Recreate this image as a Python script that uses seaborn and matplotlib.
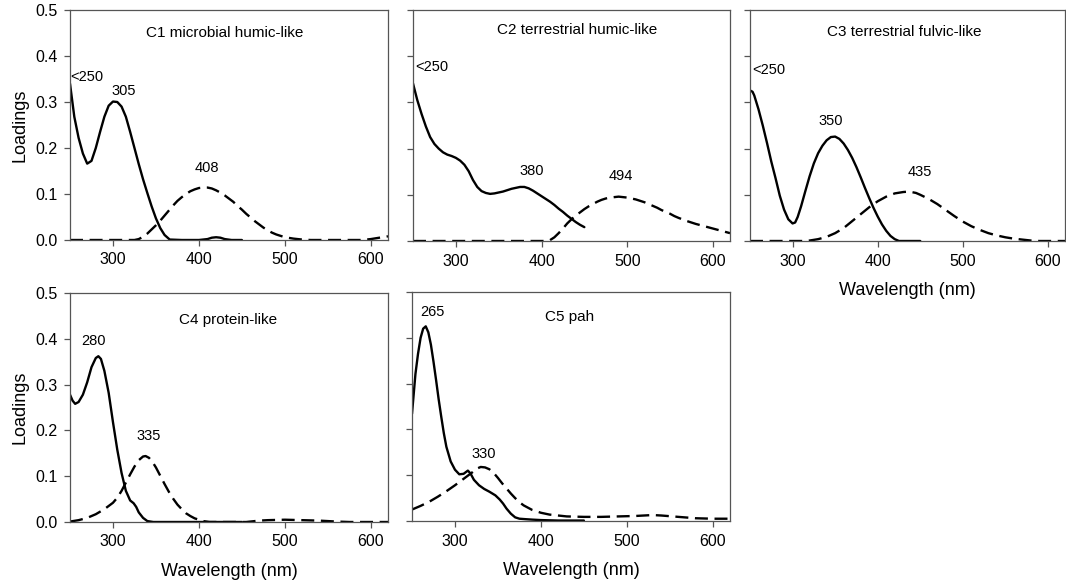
import matplotlib
matplotlib.use("Agg")
import matplotlib.pyplot as plt
import seaborn as sns
import pandas as pd

sns.set_theme(style="ticks")
plt.rcParams["font.family"] = ["Liberation Sans", "DejaVu Sans"]
plt.rcParams["text.color"] = "black"
plt.rcParams["axes.labelcolor"] = "black"

# ---- component spectra: excitation (solid) and emission (dashed) loadings ----
c1_ex_wl = [250, 255, 260, 265, 270, 275, 280, 285, 290, 295, 300, 305, 310, 315, 320, 325, 330,
            335, 340, 345, 350, 355, 360, 366, 380, 400, 410, 415, 420, 425, 430, 438, 450]
c1_ex = [0.340, 0.268, 0.222, 0.188, 0.166, 0.172, 0.200, 0.235, 0.268, 0.292, 0.301, 0.300, 0.290,
         0.268, 0.235, 0.200, 0.165, 0.132, 0.102, 0.073, 0.047, 0.026, 0.011, 0.001, 0.0, 0.0,
         0.002, 0.005, 0.006, 0.005, 0.002, 0.0, 0.0]
c1_em_wl = [250, 300, 325, 330, 335, 340, 345, 350, 355, 360, 365, 370, 375, 380, 385, 390, 395, 400,
            405, 410, 415, 420, 425, 430, 435, 440, 445, 450, 455, 460, 465, 470, 475, 480, 485, 490,
            495, 500, 510, 520, 530, 590, 600, 610, 620]
c1_em = [0.0, 0.0, 0.0, 0.002, 0.007, 0.014, 0.023, 0.032, 0.042, 0.053, 0.064, 0.075, 0.085, 0.093,
         0.100, 0.106, 0.110, 0.113, 0.114, 0.114, 0.112, 0.108, 0.103, 0.097, 0.090, 0.083, 0.074,
         0.066, 0.057, 0.049, 0.041, 0.034, 0.027, 0.021, 0.016, 0.012, 0.009, 0.006, 0.003, 0.001,
         0.0, 0.0, 0.002, 0.005, 0.008]

c2_ex_wl = [250, 255, 260, 265, 270, 275, 280, 285, 290, 295, 300, 305, 310, 315, 320, 325, 330, 335,
            340, 345, 350, 355, 360, 365, 370, 375, 380, 385, 390, 395, 400, 405, 410, 415, 420, 425,
            430, 435, 440, 445, 450]
c2_ex = [0.341, 0.305, 0.275, 0.248, 0.225, 0.210, 0.200, 0.192, 0.187, 0.184, 0.180, 0.174, 0.165,
         0.151, 0.132, 0.117, 0.108, 0.104, 0.102, 0.103, 0.105, 0.107, 0.110, 0.113, 0.115, 0.117,
         0.117, 0.114, 0.109, 0.103, 0.097, 0.091, 0.085, 0.078, 0.070, 0.063, 0.055, 0.048, 0.041,
         0.035, 0.030]
c2_em_wl = [250, 405, 410, 415, 420, 425, 430, 435, 440, 445, 450, 455, 460, 465, 470, 475, 480, 485,
            490, 495, 500, 505, 510, 515, 520, 525, 530, 535, 540, 545, 550, 555, 560, 570, 580, 590,
            600, 610, 620]
c2_em = [0.0, 0.0, 0.002, 0.008, 0.017, 0.027, 0.038, 0.047, 0.055, 0.062, 0.069, 0.075, 0.080,
         0.085, 0.089, 0.092, 0.094, 0.095, 0.096, 0.095, 0.094, 0.092, 0.090, 0.087, 0.084, 0.080,
         0.076, 0.072, 0.067, 0.063, 0.059, 0.054, 0.050, 0.043, 0.037, 0.032, 0.027, 0.022, 0.017]

c3_ex_wl = [250, 253, 255, 260, 265, 270, 275, 280, 285, 290, 295, 300, 303, 306, 310, 315, 320, 325,
            330, 335, 340, 345, 350, 355, 360, 365, 370, 375, 380, 385, 390, 395, 400, 405, 410, 415,
            420, 425, 450]
c3_ex = [0.326, 0.323, 0.315, 0.285, 0.250, 0.212, 0.172, 0.136, 0.098, 0.068, 0.047, 0.038, 0.040,
         0.052, 0.075, 0.108, 0.140, 0.168, 0.190, 0.206, 0.218, 0.225, 0.226, 0.221, 0.211, 0.197,
         0.180, 0.160, 0.138, 0.115, 0.093, 0.072, 0.053, 0.036, 0.022, 0.011, 0.004, 0.0, 0.0]
c3_em_wl = [250, 315, 320, 330, 340, 350, 360, 370, 380, 390, 400, 410, 420, 430, 437, 445, 450, 460,
            470, 480, 490, 500, 510, 520, 530, 540, 550, 560, 570, 580, 590, 620]
c3_em = [0.0, 0.0, 0.001, 0.004, 0.009, 0.017, 0.028, 0.043, 0.058, 0.073, 0.086, 0.096, 0.103, 0.106,
         0.107, 0.104, 0.100, 0.091, 0.080, 0.067, 0.054, 0.042, 0.032, 0.024, 0.017, 0.012, 0.008,
         0.005, 0.003, 0.001, 0.0, 0.0]

c4_ex_wl = [250, 253, 256, 260, 265, 270, 275, 280, 283, 286, 290, 295, 300, 305, 310, 315, 320, 324,
            327, 330, 335, 340, 347, 450]
c4_ex = [0.278, 0.265, 0.258, 0.262, 0.278, 0.305, 0.338, 0.358, 0.362, 0.356, 0.330, 0.282, 0.218,
         0.158, 0.107, 0.068, 0.047, 0.041, 0.033, 0.021, 0.009, 0.002, 0.0, 0.0]
c4_em_wl = [250, 260, 270, 280, 290, 300, 305, 310, 315, 320, 325, 330, 335, 338, 342, 346, 350, 355,
            360, 365, 370, 375, 380, 385, 390, 395, 400, 405, 412, 455, 470, 480, 500, 520, 540, 560,
            575, 620]
c4_em = [0.001, 0.004, 0.009, 0.017, 0.028, 0.042, 0.053, 0.068, 0.086, 0.104, 0.121, 0.135, 0.143,
         0.144, 0.140, 0.131, 0.119, 0.101, 0.083, 0.066, 0.051, 0.038, 0.028, 0.019, 0.013, 0.008,
         0.005, 0.002, 0.0, 0.0, 0.003, 0.004, 0.005, 0.004, 0.003, 0.001, 0.0, 0.0]

c5_ex_wl = [250, 254, 257, 260, 263, 266, 269, 272, 275, 278, 281, 284, 287, 290, 295, 300, 305, 310,
            315, 318, 322, 328, 334, 340, 347, 352, 356, 360, 365, 370, 375, 382, 390, 400, 420, 450]
c5_ex = [0.234, 0.321, 0.365, 0.400, 0.420, 0.425, 0.412, 0.385, 0.348, 0.308, 0.266, 0.228, 0.192,
         0.162, 0.130, 0.112, 0.102, 0.103, 0.110, 0.104, 0.090, 0.078, 0.070, 0.064, 0.056, 0.047,
         0.038, 0.027, 0.016, 0.008, 0.005, 0.004, 0.003, 0.002, 0.001, 0.001]
c5_em_wl = [250, 260, 270, 280, 290, 300, 310, 320, 325, 330, 335, 340, 345, 350, 355, 360, 365, 370,
            375, 380, 390, 400, 410, 420, 430, 450, 470, 490, 510, 530, 540, 560, 580, 600, 620]
c5_em = [0.025, 0.033, 0.042, 0.053, 0.065, 0.078, 0.092, 0.106, 0.114, 0.118, 0.117, 0.113, 0.105,
         0.094, 0.082, 0.071, 0.060, 0.050, 0.041, 0.034, 0.024, 0.018, 0.014, 0.012, 0.010, 0.009,
         0.009, 0.010, 0.011, 0.013, 0.012, 0.009, 0.006, 0.005, 0.005]

# panel titles
titles = ["C1 microbial humic-like", "C2 terrestrial humic-like", "C3 terrestrial fulvic-like",
          "C4 protein-like", "C5 pah"]

# peak annotations: (text, wavelength, loading)
peak_labels = [
    [("<250", 250, 0.346), ("305", 313, 0.315), ("408", 409, 0.148)],
    [("<250", 253, 0.368), ("380", 388, 0.143), ("494", 493, 0.133)],
    [("<250", 253, 0.361), ("350", 345, 0.252), ("435", 450, 0.141)],
    [("280", 277, 0.386), ("335", 341, 0.178)],
    [("265", 274, 0.447), ("330", 334, 0.138)],
]

x_ticks = [300, 400, 500, 600]
y_ticks = [0.0, 0.1, 0.2, 0.3, 0.4, 0.5]

spectra = [
    (c1_ex_wl, c1_ex, c1_em_wl, c1_em),
    (c2_ex_wl, c2_ex, c2_em_wl, c2_em),
    (c3_ex_wl, c3_ex, c3_em_wl, c3_em),
    (c4_ex_wl, c4_ex, c4_em_wl, c4_em),
    (c5_ex_wl, c5_ex, c5_em_wl, c5_em),
]

W, H = 1066, 585
fig = plt.figure(figsize=(W / 100, H / 100), dpi=100)

# axes boxes in pixels: left, right, top, bottom
boxes = [
    (70, 388, 10, 240),
    (413, 730, 10, 241),
    (750, 1065, 10, 241),
    (70, 388, 293, 522),
    (412, 730, 292, 521),
]
title_x = [430, 442, 431, 434, 433]
title_y = [0.441, 0.449, 0.443, 0.433, 0.436]

frame_col = "#555555"
for i, (l, r, t, b) in enumerate(boxes):
    ax = fig.add_axes([l / W, 1 - b / H, (r - l) / W, (b - t) / H])
    ex_wl, ex, em_wl, em = spectra[i]
    df_ex = pd.DataFrame({"wl": ex_wl, "v": ex})
    df_em = pd.DataFrame({"wl": em_wl, "v": em})
    sns.lineplot(data=df_ex, x="wl", y="v", ax=ax, color="black", lw=1.7)
    sns.lineplot(data=df_em, x="wl", y="v", ax=ax, color="black", lw=1.7,
                 linestyle=(0, (5.5, 2.8)))
    ax.set_xlim(250, 620)
    ax.set_ylim(0, 0.5)
    ax.set_xticks(x_ticks)
    ax.set_yticks(y_ticks)
    ax.set_xticklabels([str(v) for v in x_ticks], fontsize=11.5)
    if i in (0, 3):
        ax.set_yticklabels([f"{v:.1f}" for v in y_ticks], fontsize=11.5)
        ax.set_ylabel("Loadings", fontsize=13, labelpad=5)
    else:
        ax.set_yticklabels([])
        ax.set_ylabel("")
    if i in (2, 3, 4):
        ax.set_xlabel("Wavelength (nm)", fontsize=13, labelpad=10)
    else:
        ax.set_xlabel("")
    ax.tick_params(direction="out", length=4, width=0.9, color=frame_col, pad=5,
                   labelcolor="black")
    for s in ax.spines.values():
        s.set_visible(True)
        s.set_color(frame_col)
        s.set_linewidth(0.9)
    ax.grid(False)

    ax.text(title_x[i], title_y[i], titles[i], fontsize=11, ha="center", va="baseline",
            color="black")

    for txt, xw, yv in peak_labels[i]:
        ha = "left" if txt.startswith("<") else "center"
        ax.text(xw, yv, txt, fontsize=10.5, ha=ha, va="baseline", color="black")

fig.savefig("out.png", dpi=100)
